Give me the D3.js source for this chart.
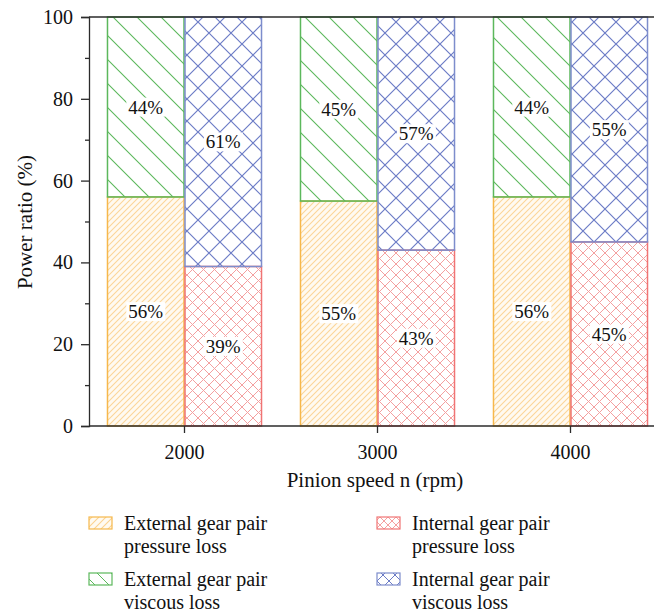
<!DOCTYPE html>
<html>
<head>
<meta charset="utf-8">
<script src="https://cdn.jsdelivr.net/npm/d3@7/dist/d3.min.js"></script>
<style>
  html, body { margin: 0; padding: 0; background: #fff; }
  svg { display: block; font-family: "Liberation Serif", "Times New Roman", serif; }
</style>
</head>
<body>
<svg id="chart" width="654" height="616"></svg>
<script>
// Pinion speeds (rpm) and the share of each power-loss component (%)
const speeds = ["2000", "3000", "4000"];
const extPressure = [56, 55, 56];
const extViscous = [44, 45, 44];
const intPressure = [39, 43, 45];
const intViscous = [61, 57, 55];
const yTicks = [0, 20, 40, 60, 80, 100];
const yMinorTicks = [10, 30, 50, 70, 90];
const legendLines = [
  ["External gear pair", "pressure loss"],
  ["Internal gear pair", "pressure loss"],
  ["External gear pair", "viscous loss"],
  ["Internal gear pair", "viscous loss"]
];

// Fill style for each component
const styles = {
  extPressure: { stroke: "#f6b84c", hatch: "#f7a92e", pattern: "hatch-ext-p" },
  extViscous:  { stroke: "#5cb85c", hatch: "#5cb85c", pattern: "hatch-ext-v" },
  intPressure: { stroke: "#f07474", hatch: "#f4a0a0", pattern: "hatch-int-p" },
  intViscous:  { stroke: "#7d8dcc", hatch: "#6c7cc6", pattern: "hatch-int-v" }
};

const svg = d3.select("#chart");
const defs = svg.append("defs");

function diagPattern(id, size, color, dir, width, opacity, tint) {
  const p = defs.append("pattern").attr("id", id)
    .attr("patternUnits", "userSpaceOnUse")
    .attr("width", size).attr("height", size);
  const s = size;
  if (tint) p.append("rect").attr("width", s).attr("height", s).attr("fill", tint);
  const d = dir === "/"
    ? `M0,${s} L${s},0 M-1,1 L1,-1 M${s - 1},${s + 1} L${s + 1},${s - 1}`
    : `M0,0 L${s},${s} M-1,${s - 1} L1,${s + 1} M${s - 1},-1 L${s + 1},1`;
  p.append("path").attr("d", d).attr("stroke", color)
    .attr("stroke-width", width).attr("stroke-opacity", opacity || 1).attr("fill", "none");
}
function crossPattern(id, size, color, width, ox, oy) {
  const p = defs.append("pattern").attr("id", id)
    .attr("patternUnits", "userSpaceOnUse")
    .attr("width", size).attr("height", size)
    .attr("x", ox || 0).attr("y", oy || 0);
  const s = size;
  p.append("path").attr("d", `M0,0 L${s},${s} M${s},0 L0,${s}`)
    .attr("stroke", color).attr("stroke-width", width).attr("fill", "none");
}

diagPattern("hatch-ext-p", 6, styles.extPressure.hatch, "/", 1.1, 0.45, "#fffaf1");
diagPattern("hatch-ext-v", 24, styles.extViscous.hatch, "\\", 1.1);
crossPattern("hatch-int-p", 11, styles.intPressure.hatch, 1, 0, 0);
crossPattern("hatch-int-v", 22, styles.intViscous.hatch, 1.2, 0, 0);
// smaller tiles for the legend keys
diagPattern("key-ext-p", 7, styles.extPressure.hatch, "/", 1.1, 0.5, "#fffaf1");
diagPattern("key-ext-v", 14, styles.extViscous.hatch, "\\", 1);
crossPattern("key-int-p", 8, styles.intPressure.hatch, 1, 0, 1);
crossPattern("key-int-v", 12, styles.intViscous.hatch, 1, 5, 5);

const x0 = d3.scaleBand().domain(speeds).range([88, 667]).padding(0);
const x1 = d3.scaleBand().domain(["ext", "int"])
  .range([0, x0.bandwidth()]).paddingInner(0).paddingOuter(0.245);
const y = d3.scaleLinear().domain([0, 100]).range([426, 17]);

// Stacked segments per gear pair
const segments = [];
speeds.forEach((s, i) => {
  segments.push({ speed: s, pair: "ext", key: "extPressure", y0: 0, y1: extPressure[i], v: extPressure[i] });
  segments.push({ speed: s, pair: "ext", key: "extViscous", y0: extPressure[i], y1: extPressure[i] + extViscous[i], v: extViscous[i] });
  segments.push({ speed: s, pair: "int", key: "intPressure", y0: 0, y1: intPressure[i], v: intPressure[i] });
  segments.push({ speed: s, pair: "int", key: "intViscous", y0: intPressure[i], y1: intPressure[i] + intViscous[i], v: intViscous[i] });
});

const bars = svg.append("g");
bars.selectAll("rect").data(segments).join("rect")
  .attr("x", d => x0(d.speed) + x1(d.pair) + 0.5)
  .attr("y", d => y(d.y1))
  .attr("width", x1.bandwidth() - 1)
  .attr("height", d => y(d.y0) - y(d.y1))
  .attr("fill", d => `url(#${styles[d.key].pattern})`)
  .attr("stroke", d => styles[d.key].stroke)
  .attr("stroke-width", 1.5);

// Value labels on a white box
const labels = svg.append("g").attr("font-size", 19).attr("fill", "#111");
segments.forEach(d => {
  const cx = x0(d.speed) + x1(d.pair) + x1.bandwidth() / 2;
  const cy = y((d.y0 + d.y1) / 2);
  const g = labels.append("g");
  const t = g.append("text").attr("x", cx).attr("y", cy).attr("dy", "0.35em")
    .attr("text-anchor", "middle").text(d.v + "%");
  const bb = t.node().getBBox();
  g.insert("rect", "text")
    .attr("x", bb.x - 2).attr("y", bb.y + 1)
    .attr("width", bb.width + 4).attr("height", bb.height - 2)
    .attr("fill", "#fff");
});

// Axes
const axisColor = "#2b2b2b";
const yAxis = svg.append("g").attr("transform", "translate(89,0)")
  .call(d3.axisLeft(y).tickValues(yTicks).tickSize(8).tickPadding(8).tickFormat(d3.format("d")));
const yMinor = svg.append("g").attr("transform", "translate(89,0)")
  .call(d3.axisLeft(y).tickValues(yMinorTicks).tickSize(4).tickFormat(""));
const xAxis = svg.append("g").attr("transform", "translate(0,426)")
  .call(d3.axisBottom(x0).tickSize(7).tickPadding(12));
xAxis.select(".domain").attr("d", "M89,0H667");
yMinor.select(".domain").remove();

[yAxis, yMinor, xAxis].forEach(g => {
  g.selectAll(".domain, line").attr("stroke", axisColor).attr("stroke-width", 1.3);
  g.selectAll("text").attr("font-size", 20).attr("fill", "#111")
    .attr("font-family", "Liberation Serif, Times New Roman, serif");
});
// top frame line
svg.append("line").attr("x1", 89).attr("x2", 667).attr("y1", y(100)).attr("y2", y(100))
  .attr("stroke", axisColor).attr("stroke-width", 1.3);

// Axis titles
svg.append("text").attr("x", 375).attr("y", 487).attr("text-anchor", "middle")
  .attr("font-size", 21).attr("fill", "#111").text("Pinion speed n (rpm)");
svg.append("text").attr("transform", "translate(32,222) rotate(-90)")
  .attr("text-anchor", "middle").attr("font-size", 21).attr("fill", "#111")
  .text("Power ratio (%)");

// Legend
const legendKeys = ["extPressure", "intPressure", "extViscous", "intViscous"];
const keyPatterns = { extPressure: "key-ext-p", intPressure: "key-int-p", extViscous: "key-ext-v", intViscous: "key-int-v" };
const legend = svg.append("g");
legendKeys.forEach((k, i) => {
  const col = i % 2, row = Math.floor(i / 2);
  const lx = col === 0 ? 89 : 377;
  const ly = row === 0 ? 517 : 573;
  legend.append("rect").attr("x", lx).attr("y", ly).attr("width", 23).attr("height", 12)
    .attr("fill", `url(#${keyPatterns[k]})`).attr("stroke", styles[k].stroke).attr("stroke-width", 1.2);
  const t = legend.append("text").attr("x", lx + 35).attr("y", ly + 13)
    .attr("font-size", 20).attr("fill", "#111");
  legendLines[i].forEach((line, j) => {
    t.append("tspan").attr("x", lx + 35).attr("dy", j === 0 ? 0 : 23).text(line);
  });
});
</script>
</body>
</html>
